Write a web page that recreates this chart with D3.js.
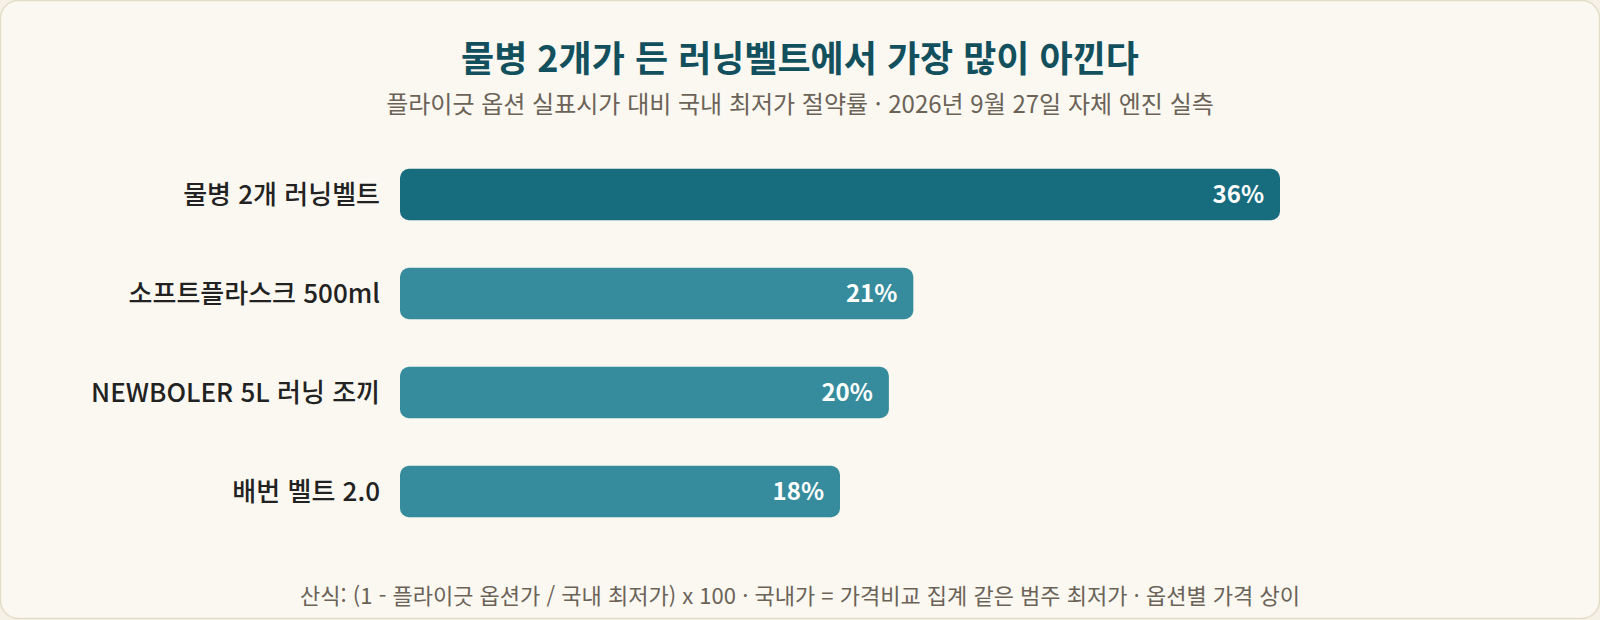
<!DOCTYPE html>
<html lang="ko">
<head>
<meta charset="utf-8">
<script src="https://cdn.jsdelivr.net/npm/d3@7"></script>
<style>
  html, body { margin: 0; padding: 0; background: #f5f1e6; }
  svg { display: block; font-family: "Noto Sans CJK KR", "Noto Sans", sans-serif; }
</style>
</head>
<body>
<div id="chart"></div>
<script>
// 제품별 절약률 (%)
var products = ["물병 2개 러닝벨트", "소프트플라스크 500ml", "NEWBOLER 5L 러닝 조끼", "배번 벨트 2.0"];
var savings = [36, 21, 20, 18];
var highlight = ["물병 2개 러닝벨트"];

var titleText = "물병 2개가 든 러닝벨트에서 가장 많이 아낀다";
var subtitleText = "플라이긋 옵션 실표시가 대비 국내 최저가 절약률 · 2026년 9월 27일 자체 엔진 실측";
var footText = "산식: (1 - 플라이긋 옵션가 / 국내 최저가) x 100 · 국내가 = 가격비교 집계 같은 범주 최저가 · 옵션별 가격 상이";

var width = 1600,
    height = 620;

var data = products.map((p, i) => ({ name: p, value: savings[i] }));

var svg = d3.select("#chart")
    .append("svg")
    .attr("width", width)
    .attr("height", height)
    .attr("viewBox", "0 0 " + width + " " + height);

// 카드 배경
svg.append("rect")
    .attr("x", 0.5).attr("y", 0.5)
    .attr("width", width - 1).attr("height", height - 2)
    .attr("rx", 18)
    .attr("fill", "#faf8f0")
    .attr("stroke", "#e4ddca")
    .attr("stroke-width", 1.5);

svg.append("text")
    .attr("x", width / 2).attr("y", 72)
    .attr("text-anchor", "middle")
    .attr("font-size", "36px")
    .attr("font-weight", 700)
    .attr("fill", "#13505e")
    .text(titleText);

svg.append("text")
    .attr("x", width / 2).attr("y", 113)
    .attr("text-anchor", "middle")
    .attr("font-size", "24px")
    .attr("fill", "#6b6258")
    .text(subtitleText);

var x = d3.scaleLinear()
    .domain([0, 36])
    .range([400, 1280]);

var y = d3.scaleBand()
    .domain(products)
    .range([143, 543])
    .paddingInner(0.48)
    .paddingOuter(0.26);

var bars = svg.append("g")
    .selectAll("g")
    .data(data)
    .enter()
    .append("g");

bars.append("rect")
    .attr("x", x(0))
    .attr("y", d => y(d.name))
    .attr("width", d => x(d.value) - x(0))
    .attr("height", y.bandwidth())
    .attr("rx", 9)
    .attr("fill", d => highlight.includes(d.name) ? "#176d7e" : "#368c9d");

bars.append("text")
    .attr("x", d => x(d.value) - 16)
    .attr("y", d => y(d.name) + y.bandwidth() / 2)
    .attr("dy", "0.36em")
    .attr("text-anchor", "end")
    .attr("font-size", "24px")
    .attr("font-weight", 700)
    .attr("fill", "#ffffff")
    .text(d => d.value + "%");

bars.append("text")
    .attr("x", x(0) - 20)
    .attr("y", d => y(d.name) + y.bandwidth() / 2)
    .attr("dy", "0.36em")
    .attr("text-anchor", "end")
    .attr("font-size", "26px")
    .attr("font-weight", 500)
    .attr("fill", "#222222")
    .text(d => d.name);

svg.append("text")
    .attr("x", width / 2).attr("y", 604)
    .attr("text-anchor", "middle")
    .attr("font-size", "22px")
    .attr("fill", "#6b6258")
    .text(footText);
</script>
</body>
</html>
